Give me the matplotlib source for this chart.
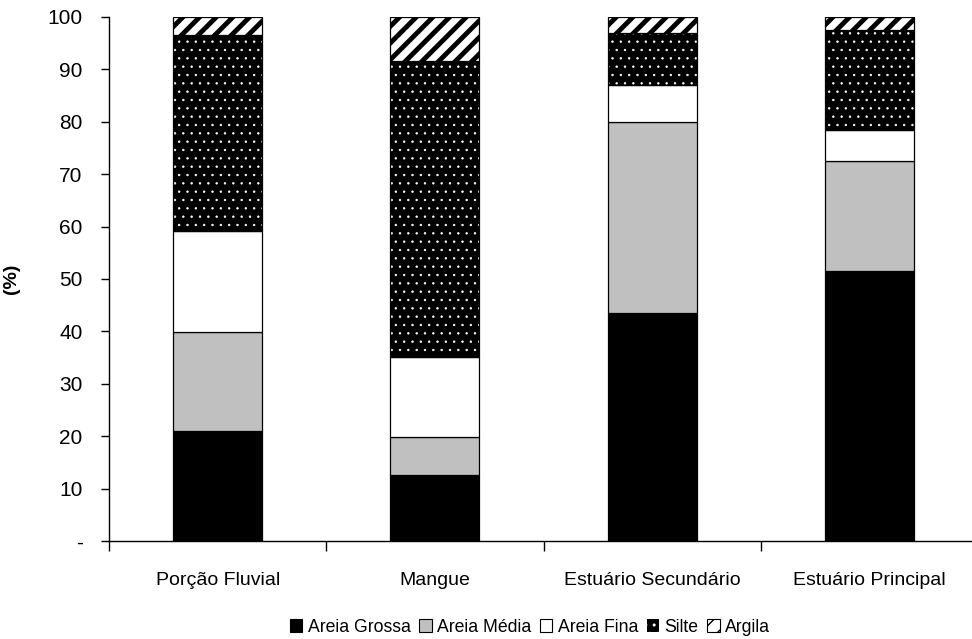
import matplotlib
matplotlib.use("Agg")
import matplotlib.pyplot as plt
from matplotlib.patches import Patch
from matplotlib.ticker import FuncFormatter

plt.rcParams['font.family'] = ['Liberation Sans', 'DejaVu Sans']

locais = ['Porção Fluvial', 'Mangue', 'Estuário Secundário', 'Estuário Principal']
areia_grossa = [21.0, 12.6, 43.5, 51.5]
areia_media = [18.9, 7.2, 36.5, 21.0]
areia_fina = [19.3, 15.3, 7.0, 5.9]
silte = [37.4, 56.5, 10.0, 19.1]
argila = [3.4, 8.4, 3.0, 2.5]

fig = plt.figure(figsize=(9.72, 6.39), dpi=100)
ax = fig.add_axes([109 / 972, 1 - 541 / 639, 869 / 972, 524 / 639])

x = list(range(len(locais)))
w = 0.41
lw = 0.9

base = [0] * len(locais)
ax.bar(x, areia_grossa, w, bottom=base, color='black', edgecolor='black', linewidth=lw)
base = [b + v for b, v in zip(base, areia_grossa)]
ax.bar(x, areia_media, w, bottom=base, color='#c0c0c0', edgecolor='black', linewidth=lw)
base = [b + v for b, v in zip(base, areia_media)]
ax.bar(x, areia_fina, w, bottom=base, color='white', edgecolor='black', linewidth=lw)
base = [b + v for b, v in zip(base, areia_fina)]

# silte: black with white dots
with plt.rc_context({'hatch.linewidth': 0.5}):
    ax.bar(x, silte, w, bottom=base, color='black', edgecolor='white', linewidth=0, hatch='..')
ax.bar(x, silte, w, bottom=base, fill=False, edgecolor='black', linewidth=lw)
base = [b + v for b, v in zip(base, silte)]

# argila: diagonal stripes
with plt.rc_context({'hatch.linewidth': 3.5}):
    ax.bar(x, argila, w, bottom=base, color='white', edgecolor='black', linewidth=lw, hatch='//')

ax.set_xlim(-0.5, 3.5)
ax.set_ylim(0, 100)
ax.set_yticks(range(0, 101, 10))
ax.yaxis.set_major_formatter(FuncFormatter(lambda v, p: '-' if v == 0 else '%d' % v))
ax.tick_params(axis='y', direction='out', length=6, width=1, pad=13, labelsize=15)

ax.set_xticks([-0.5, 0.5, 1.5, 2.5, 3.5])
ax.set_xticklabels([])
ax.set_xticks(x, minor=True)
ax.set_xticklabels(locais, minor=True)
ax.tick_params(axis='x', which='major', direction='out', length=7, width=1)
ax.tick_params(axis='x', which='minor', length=0, pad=22, labelsize=14)

for s in ['top', 'right']:
    ax.spines[s].set_visible(False)
ax.spines['left'].set_linewidth(1)
ax.spines['bottom'].set_linewidth(1)

ax.set_ylabel('(%)', fontsize=14, fontweight='bold')
ax.yaxis.set_label_coords(-0.102, 0.5)

handles = [
    Patch(facecolor='black', edgecolor='black', linewidth=0.8),
    Patch(facecolor='#c0c0c0', edgecolor='black', linewidth=0.8),
    Patch(facecolor='white', edgecolor='black', linewidth=0.8),
    Patch(facecolor='black', edgecolor='white', linewidth=0, hatch='..'),
    Patch(facecolor='white', edgecolor='black', linewidth=0.8, hatch='//'),
]
labels = ['Areia Grossa', 'Areia Média', 'Areia Fina', 'Silte', 'Argila']
fig.legend(handles, labels, loc='center', bbox_to_anchor=(530 / 972, 1 - 627 / 639), ncol=5,
           frameon=False, fontsize=12.7, handlelength=0.7, handleheight=0.7,
           handletextpad=0.3, columnspacing=0.5, borderaxespad=0)

fig.savefig('out.png', dpi=100)
